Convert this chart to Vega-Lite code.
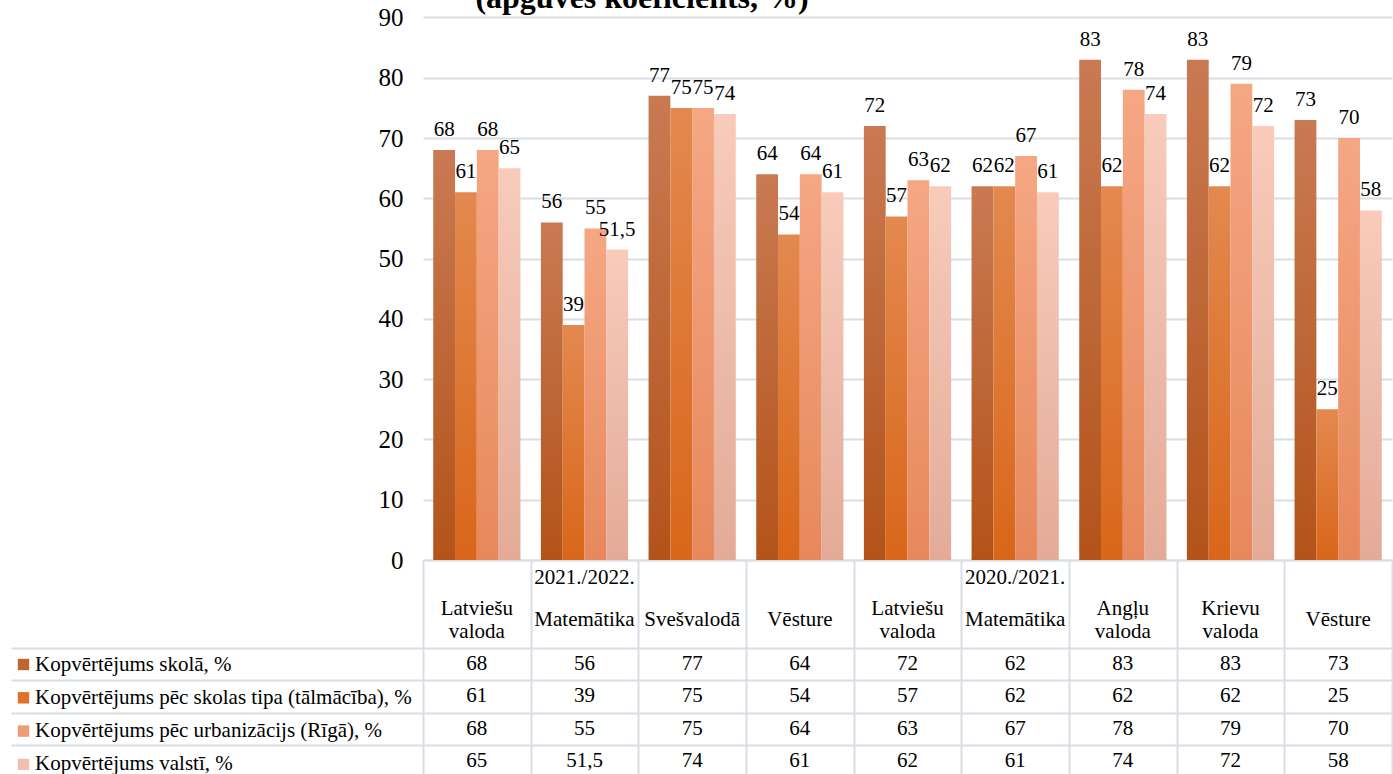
{
  "$schema": "https://vega.github.io/schema/vega-lite/v6.json",
  "padding": {"left": 10, "top": 0, "right": 2, "bottom": 0},
  "background": "white",
  "bounds": "flush",
  "spacing": 0,
  "config": {
    "view": {"stroke": null},
    "font": "Liberation Serif, Times New Roman, serif",
    "locale": {"number": {"decimal": ",", "thousands": "\u00a0", "grouping": [3], "currency": ["", " €"]}}
  },
  "datasets": {
    "main": [
      {"c": "2021./2022. Latviešu valoda", "s": "Kopvērtējums skolā, %", "v": 68},
      {"c": "2021./2022. Latviešu valoda", "s": "Kopvērtējums pēc skolas tipa (tālmācība), %", "v": 61},
      {"c": "2021./2022. Latviešu valoda", "s": "Kopvērtējums pēc urbanizācijs (Rīgā), %", "v": 68},
      {"c": "2021./2022. Latviešu valoda", "s": "Kopvērtējums valstī, %", "v": 65},
      {"c": "2021./2022. Matemātika", "s": "Kopvērtējums skolā, %", "v": 56},
      {"c": "2021./2022. Matemātika", "s": "Kopvērtējums pēc skolas tipa (tālmācība), %", "v": 39},
      {"c": "2021./2022. Matemātika", "s": "Kopvērtējums pēc urbanizācijs (Rīgā), %", "v": 55},
      {"c": "2021./2022. Matemātika", "s": "Kopvērtējums valstī, %", "v": 51.5},
      {"c": "2021./2022. Svešvalodā", "s": "Kopvērtējums skolā, %", "v": 77},
      {"c": "2021./2022. Svešvalodā", "s": "Kopvērtējums pēc skolas tipa (tālmācība), %", "v": 75},
      {"c": "2021./2022. Svešvalodā", "s": "Kopvērtējums pēc urbanizācijs (Rīgā), %", "v": 75},
      {"c": "2021./2022. Svešvalodā", "s": "Kopvērtējums valstī, %", "v": 74},
      {"c": "2021./2022. Vēsture", "s": "Kopvērtējums skolā, %", "v": 64},
      {"c": "2021./2022. Vēsture", "s": "Kopvērtējums pēc skolas tipa (tālmācība), %", "v": 54},
      {"c": "2021./2022. Vēsture", "s": "Kopvērtējums pēc urbanizācijs (Rīgā), %", "v": 64},
      {"c": "2021./2022. Vēsture", "s": "Kopvērtējums valstī, %", "v": 61},
      {"c": "2020./2021. Latviešu valoda", "s": "Kopvērtējums skolā, %", "v": 72},
      {"c": "2020./2021. Latviešu valoda", "s": "Kopvērtējums pēc skolas tipa (tālmācība), %", "v": 57},
      {"c": "2020./2021. Latviešu valoda", "s": "Kopvērtējums pēc urbanizācijs (Rīgā), %", "v": 63},
      {"c": "2020./2021. Latviešu valoda", "s": "Kopvērtējums valstī, %", "v": 62},
      {"c": "2020./2021. Matemātika", "s": "Kopvērtējums skolā, %", "v": 62},
      {"c": "2020./2021. Matemātika", "s": "Kopvērtējums pēc skolas tipa (tālmācība), %", "v": 62},
      {"c": "2020./2021. Matemātika", "s": "Kopvērtējums pēc urbanizācijs (Rīgā), %", "v": 67},
      {"c": "2020./2021. Matemātika", "s": "Kopvērtējums valstī, %", "v": 61},
      {"c": "2020./2021. Angļu valoda", "s": "Kopvērtējums skolā, %", "v": 83},
      {"c": "2020./2021. Angļu valoda", "s": "Kopvērtējums pēc skolas tipa (tālmācība), %", "v": 62},
      {"c": "2020./2021. Angļu valoda", "s": "Kopvērtējums pēc urbanizācijs (Rīgā), %", "v": 78},
      {"c": "2020./2021. Angļu valoda", "s": "Kopvērtējums valstī, %", "v": 74},
      {"c": "2020./2021. Krievu valoda", "s": "Kopvērtējums skolā, %", "v": 83},
      {"c": "2020./2021. Krievu valoda", "s": "Kopvērtējums pēc skolas tipa (tālmācība), %", "v": 62},
      {"c": "2020./2021. Krievu valoda", "s": "Kopvērtējums pēc urbanizācijs (Rīgā), %", "v": 79},
      {"c": "2020./2021. Krievu valoda", "s": "Kopvērtējums valstī, %", "v": 72},
      {"c": "2020./2021. Vēsture", "s": "Kopvērtējums skolā, %", "v": 73},
      {"c": "2020./2021. Vēsture", "s": "Kopvērtējums pēc skolas tipa (tālmācība), %", "v": 25},
      {"c": "2020./2021. Vēsture", "s": "Kopvērtējums pēc urbanizācijs (Rīgā), %", "v": 70},
      {"c": "2020./2021. Vēsture", "s": "Kopvērtējums valstī, %", "v": 58}
    ],
    "hdr": [
      {"c": "2021./2022. Latviešu valoda", "name": "Latviešu valoda", "yr": ""},
      {"c": "2021./2022. Matemātika", "name": "Matemātika", "yr": "2021./2022."},
      {"c": "2021./2022. Svešvalodā", "name": "Svešvalodā", "yr": ""},
      {"c": "2021./2022. Vēsture", "name": "Vēsture", "yr": ""},
      {"c": "2020./2021. Latviešu valoda", "name": "Latviešu valoda", "yr": ""},
      {"c": "2020./2021. Matemātika", "name": "Matemātika", "yr": "2020./2021."},
      {"c": "2020./2021. Angļu valoda", "name": "Angļu valoda", "yr": ""},
      {"c": "2020./2021. Krievu valoda", "name": "Krievu valoda", "yr": ""},
      {"c": "2020./2021. Vēsture", "name": "Vēsture", "yr": ""}
    ],
    "ttl": [{"t": "(apgūves koeficients, %)"}]
  },
  "data": {"name": "main"},
  "vconcat": [
    {
      "width": 969,
      "height": 560,
      "layer": [
        {
          "encoding": {
            "x": {"field": "c", "type": "nominal", "sort": null,
                  "scale": {"type": "band", "domain": ["2021./2022. Latviešu valoda", "2021./2022. Matemātika", "2021./2022. Svešvalodā", "2021./2022. Vēsture", "2020./2021. Latviešu valoda", "2020./2021. Matemātika", "2020./2021. Angļu valoda", "2020./2021. Krievu valoda", "2020./2021. Vēsture"], "paddingInner": 0.19, "paddingOuter": 0.095},
                  "axis": {"labels": false, "ticks": false, "title": null, "grid": false, "domainColor": "#d9dde5", "domainWidth": 2}},
            "xOffset": {"field": "s", "type": "nominal", "scale": {"domain": ["Kopvērtējums skolā, %", "Kopvērtējums pēc skolas tipa (tālmācība), %", "Kopvērtējums pēc urbanizācijs (Rīgā), %", "Kopvērtējums valstī, %"], "paddingInner": 0, "paddingOuter": 0}},
            "y": {"field": "v", "type": "quantitative", "scale": {"domain": [0, 92.9], "nice": false},
                  "axis": {"title": null, "values": [0, 10, 20, 30, 40, 50, 60, 70, 80, 90], "domain": false, "ticks": false, "labelPadding": 20, "labelFont": "Liberation Serif, Times New Roman, serif", "labelFontSize": 25, "labelColor": "black", "gridColor": "#d9dde5", "gridWidth": 2}}
          },
          "layer": [
            {
              "mark": {"type": "bar", "opacity": 0},
              "encoding": {
                "color": {"field": "s", "type": "nominal",
                          "scale": {"domain": ["Kopvērtējums skolā, %", "Kopvērtējums pēc skolas tipa (tālmācība), %", "Kopvērtējums pēc urbanizācijs (Rīgā), %", "Kopvērtējums valstī, %"],
                                    "range": ["#bd6633", "#df7128", "#ef9c74", "#f1c1ae"]},
                          "legend": {"orient": "none", "legendX": -410, "legendY": 654, "title": null, "direction": "vertical", "symbolType": "square", "symbolSize": 130, "symbolStrokeWidth": 0, "symbolOpacity": 1, "labelFont": "Liberation Serif, Times New Roman, serif", "labelFontSize": 21, "labelColor": "black", "labelLimit": 500, "rowPadding": 11.3, "padding": 0, "labelOffset": 1}}
              }
            },
            {
              "transform": [{"filter": "datum.s === 'Kopvērtējums skolā, %'"}],
              "mark": {"type": "bar", "color": {"gradient": "linear", "x1": 0, "y1": 0, "x2": 0, "y2": 1, "stops": [{"offset": 0, "color": "#c97a53"}, {"offset": 1, "color": "#b3531a"}]}}
            },
            {
              "transform": [{"filter": "datum.s === 'Kopvērtējums pēc skolas tipa (tālmācība), %'"}],
              "mark": {"type": "bar", "color": {"gradient": "linear", "x1": 0, "y1": 0, "x2": 0, "y2": 1, "stops": [{"offset": 0, "color": "#e3894f"}, {"offset": 1, "color": "#d9661a"}]}}
            },
            {
              "transform": [{"filter": "datum.s === 'Kopvērtējums pēc urbanizācijs (Rīgā), %'"}],
              "mark": {"type": "bar", "color": {"gradient": "linear", "x1": 0, "y1": 0, "x2": 0, "y2": 1, "stops": [{"offset": 0, "color": "#f5a784"}, {"offset": 1, "color": "#e7885c"}]}}
            },
            {
              "transform": [{"filter": "datum.s === 'Kopvērtējums valstī, %'"}],
              "mark": {"type": "bar", "color": {"gradient": "linear", "x1": 0, "y1": 0, "x2": 0, "y2": 1, "stops": [{"offset": 0, "color": "#f8cbbb"}, {"offset": 1, "color": "#e3ab97"}]}}
            },
            {
              "mark": {"type": "text", "baseline": "alphabetic", "dy": -14, "font": "Liberation Serif, Times New Roman, serif", "fontSize": 21, "color": "black"},
              "encoding": {
                "text": {"field": "v", "type": "quantitative", "format": ".1~f"}
              }
            }
          ]
        },
        {
          "data": {"name": "ttl"},
          "mark": {"type": "text", "clip": true, "baseline": "alphabetic", "align": "center", "font": "Liberation Serif, Times New Roman, serif", "fontSize": 32, "fontWeight": "bold", "color": "black"},
          "encoding": {
            "x": {"datum": "2021./2022. Matemātika", "bandPosition": 1.16},
            "y": {"datum": 91.6},
            "text": {"field": "t", "type": "nominal"}
          }
        }
      ]
    },
    {
      "width": 969,
      "height": 88,
      "data": {"name": "hdr"},
      "encoding": {
        "x": {"field": "c", "type": "nominal", "sort": null,
              "scale": {"type": "band", "domain": ["2021./2022. Latviešu valoda", "2021./2022. Matemātika", "2021./2022. Svešvalodā", "2021./2022. Vēsture", "2020./2021. Latviešu valoda", "2020./2021. Matemātika", "2020./2021. Angļu valoda", "2020./2021. Krievu valoda", "2020./2021. Vēsture"], "padding": 0},
              "axis": null}
      },
      "layer": [
        {
          "transform": [{"filter": "indexof(datum.name, ' ') < 0"}],
          "mark": {"type": "text", "font": "Liberation Serif, Times New Roman, serif", "fontSize": 21, "color": "black", "baseline": "middle", "dy": 16},
          "encoding": {"text": {"field": "name", "type": "nominal"}}
        },
        {
          "transform": [{"filter": "indexof(datum.name, ' ') >= 0"}],
          "mark": {"type": "text", "font": "Liberation Serif, Times New Roman, serif", "fontSize": 21, "color": "black", "baseline": "middle", "dy": 5, "lineBreak": " ", "lineHeight": 23},
          "encoding": {"text": {"field": "name", "type": "nominal"}}
        },
        {
          "transform": [{"filter": "datum.yr !== ''"}],
          "mark": {"type": "text", "font": "Liberation Serif, Times New Roman, serif", "fontSize": 21, "color": "black", "baseline": "middle", "dy": -26},
          "encoding": {"text": {"field": "yr", "type": "nominal"}}
        }
      ]
    },
    {
      "width": 969,
      "height": 129,
      "mark": {"type": "text", "font": "Liberation Serif, Times New Roman, serif", "fontSize": 21, "color": "black", "baseline": "middle"},
      "encoding": {
        "x": {"field": "c", "type": "nominal", "sort": null,
              "scale": {"type": "band", "domain": ["2021./2022. Latviešu valoda", "2021./2022. Matemātika", "2021./2022. Svešvalodā", "2021./2022. Vēsture", "2020./2021. Latviešu valoda", "2020./2021. Matemātika", "2020./2021. Angļu valoda", "2020./2021. Krievu valoda", "2020./2021. Vēsture"], "padding": 0},
              "axis": {"orient": "top", "title": null, "tickBand": "extent", "ticks": true, "tickSize": 88, "tickColor": "#d9dde5", "tickWidth": 2, "grid": true, "gridColor": "#d9dde5", "gridWidth": 2, "domain": false, "labels": false}},
        "y": {"field": "s", "type": "nominal", "scale": {"type": "band", "domain": ["Kopvērtējums skolā, %", "Kopvērtējums pēc skolas tipa (tālmācība), %", "Kopvērtējums pēc urbanizācijs (Rīgā), %", "Kopvērtējums valstī, %"], "padding": 0},
              "axis": {"title": null, "labels": false, "tickBand": "extent", "ticks": true, "tickSize": 412, "tickColor": "#d9dde5", "tickWidth": 2, "grid": true, "gridColor": "#d9dde5", "gridWidth": 2, "domain": false}},
        "text": {"field": "v", "type": "quantitative", "format": ".1~f"}
      }
    }
  ]
}
